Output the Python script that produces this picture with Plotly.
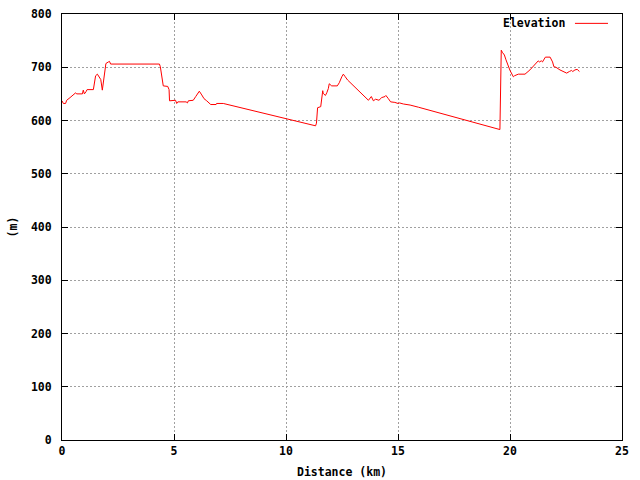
import plotly.graph_objects as go

distance_km = [0, 0.06, 0.16, 0.21, 0.36, 0.5, 0.61, 0.65, 0.91, 0.95, 1.0, 1.07, 1.12, 1.4, 1.47, 1.5,
               1.58, 1.65, 1.73, 1.8, 1.86, 1.9, 1.96, 2.07, 2.12, 2.17, 4.35, 4.39, 4.45, 4.52, 4.72,
               4.78, 4.8, 4.98, 5.07, 5.12, 5.17, 5.54, 5.6, 5.64, 5.86, 5.97, 6.06, 6.13, 6.24, 6.34,
               6.46, 6.61, 6.64, 6.88, 6.9, 7.2, 9.29, 11.32, 11.36, 11.41, 11.55, 11.59, 11.64, 11.66,
               11.76, 11.82, 11.89, 11.93, 12.04, 12.29, 12.38, 12.49, 12.56, 12.63, 12.75, 13.68,
               13.81, 13.9, 14.0, 14.15, 14.27, 14.42, 14.46, 14.57, 14.67, 14.86, 15.0, 15.07, 15.24,
               15.54, 15.91, 19.55, 19.58, 19.61, 19.66, 19.75, 19.82, 19.93, 20.0, 20.15, 20.2, 20.37,
               20.67, 20.89, 21.12, 21.26, 21.31, 21.4, 21.45, 21.58, 21.79, 21.9, 21.96, 22.05, 22.23,
               22.41, 22.53, 22.65, 22.75, 22.8, 22.9, 23.0, 23.1]
elevation_m = [637, 632, 632, 638, 643, 649, 652, 650, 650, 657, 650, 654, 658, 658, 676, 684,
               687, 682, 677, 657, 677, 689, 707, 710, 711, 706, 706, 701, 682, 665, 664,
               658, 637, 637, 638, 632, 635, 635, 633, 637, 638, 645, 651, 655, 648, 641,
               637, 632, 630, 630, 632, 632, 610, 590, 595, 624, 626, 646, 656, 651,
               647, 652, 660, 669, 665, 665, 671, 682, 687, 683, 676, 638,
               645, 637, 640, 638, 643, 645, 647, 641, 635, 634, 632, 633, 631,
               629, 625, 583, 657, 732, 728, 723, 714, 702, 694, 682, 684, 687,
               687, 695, 706, 712, 710, 712, 710, 719, 719, 710, 701, 700, 695,
               692, 689, 692, 694, 692, 695, 696, 692]

x_ticks = [0, 5, 10, 15, 20, 25]
y_ticks = [0, 100, 200, 300, 400, 500, 600, 700, 800]
series_name = "Elevation"

FONT = dict(family="DejaVu Sans Mono", size=11.5, color="black")

fig = go.Figure()
fig.add_trace(go.Scatter(x=distance_km, y=elevation_m, mode="lines", name=series_name,
                         line=dict(color="#ff0000", width=1), showlegend=False))

axis_common = dict(showline=True, linecolor="black", linewidth=1, mirror="ticks",
                   ticks="inside", ticklen=6, tickcolor="black",
                   showgrid=True, gridcolor="#a0a0a0", griddash="2px,2px", gridwidth=1,
                   zeroline=False, tickfont=FONT, automargin=False)

fig.update_xaxes(range=[0, 25], tickvals=x_ticks, ticktext=[f"<b>{v}</b>" for v in x_ticks],
                 title=dict(text="<b>Distance (km)</b>", font=FONT, standoff=11), **axis_common)
fig.update_yaxes(range=[0, 800], tickvals=y_ticks, ticktext=[f"<b>{v}</b>" for v in y_ticks],
                 title=dict(text="<b>(m)</b>", font=FONT, standoff=10), ticklabelstandoff=7, **axis_common)

# legend (gnuplot style: text then line sample)
fig.add_annotation(xref="paper", yref="paper", x=0.902, y=0.978, xanchor="right", yanchor="middle",
                   text=f"<b>{series_name}</b>", showarrow=False, font=FONT)
fig.add_shape(type="line", xref="paper", yref="paper", x0=0.916, x1=0.975, y0=0.978, y1=0.978,
              line=dict(color="#ff0000", width=1))

fig.update_layout(width=640, height=480, margin=dict(l=62, r=18, t=14, b=40),
                  plot_bgcolor="white", paper_bgcolor="white", font=FONT)

fig.write_html("out.html", config={"displayModeBar": False},
               post_script="document.body.style.margin='0';document.body.style.overflow='hidden';")
